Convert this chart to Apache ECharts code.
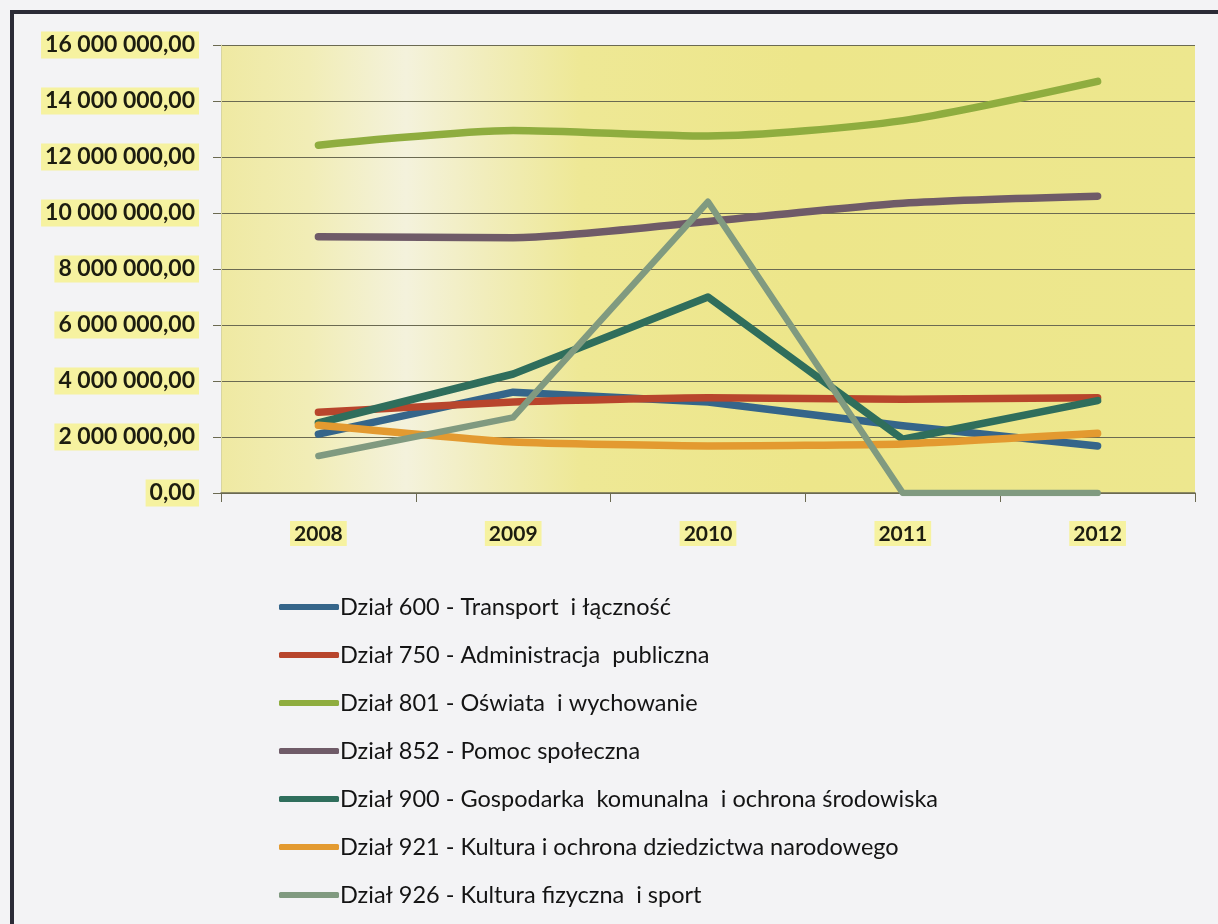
<!DOCTYPE html>
<html>
<head>
<meta charset="utf-8">
<script src="https://cdn.jsdelivr.net/npm/echarts@6/dist/echarts.min.js"></script>
<style>
html,body{margin:0;padding:0;background:#f3f3f5;}
#chart{width:1218px;height:924px;}
</style>
</head>
<body>
<div id="chart"></div>
<script>
const years = ['2008', '2009', '2010', '2011', '2012'];
const seriesNames = [
  'Dział 600 - Transport  i łączność',
  'Dział 750 - Administracja  publiczna',
  'Dział 801 - Oświata  i wychowanie',
  'Dział 852 - Pomoc społeczna',
  'Dział 900 - Gospodarka  komunalna  i ochrona środowiska',
  'Dział 921 - Kultura i ochrona dziedzictwa narodowego',
  'Dział 926 - Kultura fizyczna  i sport'
];
const dzial600 = [2100000, 3600000, 3250000, 2400000, 1680000];
const dzial750 = [2880000, 3250000, 3400000, 3350000, 3400000];
const dzial801 = [12420000, 12950000, 12750000, 13300000, 14700000];
const dzial852 = [9150000, 9120000, 9700000, 10350000, 10600000];
const dzial900 = [2500000, 4250000, 7000000, 1920000, 3300000];
const dzial921 = [2420000, 1820000, 1680000, 1750000, 2130000];
const dzial926 = [1320000, 2700000, 10400000, 0, 0];
const yTicks = [0, 2000000, 4000000, 6000000, 8000000, 10000000, 12000000, 14000000, 16000000];

const values = [dzial600, dzial750, dzial801, dzial852, dzial900, dzial921, dzial926];
const colors = ['#35658a', '#b8452c', '#8fad3f', '#6f5b68', '#2f6e5c', '#e39a30', '#809a80'];
const smoothness = [0, 0.15, 0.25, 0.25, 0, 0.15, 0];

function fmt(v) {
  const s = Math.round(v).toString().replace(/\B(?=(\d{3})+(?!\d))/g, ' ');
  return s + ',00';
}

const chart = echarts.init(document.getElementById('chart'));
const labelFont = 'Lato, "Open Sans", sans-serif';

chart.setOption({
  backgroundColor: '#f3f3f5',
  animation: false,
  graphic: [
    {
      type: 'rect',
      shape: { x: 12, y: 12, width: 1240, height: 960 },
      style: { fill: 'none', stroke: '#2b2b36', lineWidth: 4 },
      z: 100
    }
  ],
  grid: {
    left: 221, right: 23, top: 45, bottom: 431,
    show: true,
    borderWidth: 0,
    backgroundColor: {
      type: 'linear', x: 0, y: 0, x2: 1, y2: 0,
      colorStops: [
        { offset: 0, color: '#efe9a2' },
        { offset: 0.09, color: '#f1edb6' },
        { offset: 0.19, color: '#f4f2dc' },
        { offset: 0.27, color: '#f1edbc' },
        { offset: 0.37, color: '#eee895' },
        { offset: 0.6, color: '#ede68a' },
        { offset: 1, color: '#ede78e' }
      ]
    }
  },
  legend: {
    orient: 'vertical',
    left: 274,
    top: 590,
    itemWidth: 60,
    itemHeight: 6,
    itemGap: 24,
    icon: 'roundRect',
    textStyle: { fontFamily: labelFont, fontSize: 23.5, color: '#141414', padding: [0, 0, 0, -4] },
    data: seriesNames
  },
  xAxis: {
    type: 'category',
    data: years,
    boundaryGap: true,
    axisLine: { show: true, lineStyle: { color: '#6b6a52', width: 1.5 } },
    axisTick: { show: true, length: 9, inside: false, lineStyle: { color: '#6b6a52' } },
    axisLabel: {
      margin: 28,
      fontFamily: labelFont,
      fontWeight: 'bold',
      fontSize: 21,
      color: '#1c1c10',
      backgroundColor: '#f6f2a0',
      padding: [3, 4, 1, 4]
    }
  },
  yAxis: {
    type: 'value',
    min: 0,
    max: 16000000,
    interval: 2000000,
    axisLine: { show: true, lineStyle: { color: '#d8d5a0', width: 1 } },
    axisTick: { show: true, length: 8, lineStyle: { color: '#6b6a52' } },
    splitLine: { show: true, lineStyle: { color: '#6b6a52', width: 1.2 } },
    axisLabel: {
      margin: 22,
      fontFamily: labelFont,
      fontWeight: 'bold',
      fontSize: 23,
      color: '#1c1c10',
      backgroundColor: '#f6f2a0',
      padding: [3, 4, 1, 4],
      formatter: function (v) { return yTicks.indexOf(v) >= 0 ? fmt(v) : ''; }
    }
  },
  series: seriesNames.map(function (name, i) {
    return {
      name: name,
      type: 'line',
      data: values[i],
      smooth: smoothness[i],
      showSymbol: false,
      symbol: 'none',
      color: colors[i],
      lineStyle: { width: i === 6 ? 6.5 : 7.5, color: colors[i], cap: 'round', join: 'round' },
      emphasis: { disabled: true }
    };
  })
});
</script>
</body>
</html>
